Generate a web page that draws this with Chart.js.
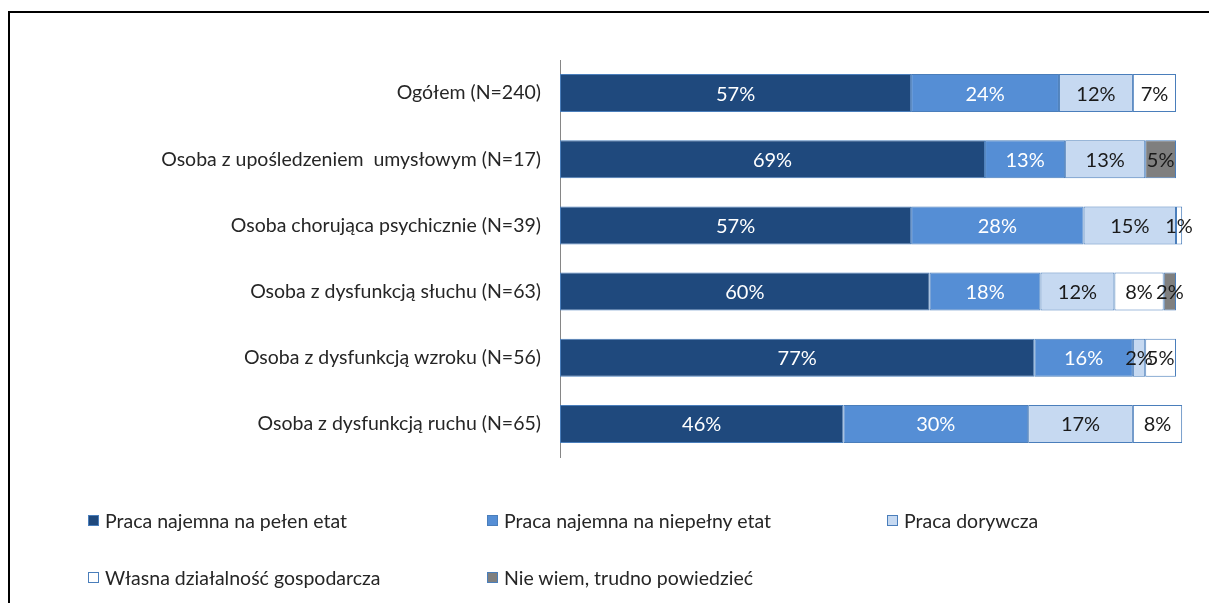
<!DOCTYPE html>
<html lang="pl">
<head>
<meta charset="utf-8">
<script src="https://cdn.jsdelivr.net/npm/chart.js@4.4.1/dist/chart.umd.min.js"></script>
<style>
  html, body { margin: 0; padding: 0; background: #fff; }
  body { width: 1209px; height: 603px; position: relative; overflow: hidden; font-family: Lato, "Open Sans", sans-serif; }
  .frame { position: absolute; left: 8px; top: 11px; width: 1400px; height: 800px;
           border-top: 2px solid #000; border-left: 2px solid #000; }
  .wrap { position: absolute; left: 0; top: 0; width: 1209px; height: 603px; }
  #legend { position: absolute; left: 0; top: 0; width: 1209px; height: 603px; pointer-events: none; }
  .lg { position: absolute; display: flex; align-items: center; font-size: 19.5px; color: #262626; white-space: nowrap; }
  .lg i { display: inline-block; width: 9px; height: 9px; margin-right: 6px; border: 1px solid #4a7ebb; }
</style>
</head>
<body>
<div class="frame"></div>
<div class="wrap"><canvas id="chart"></canvas></div>
<div id="legend"></div>
<script>
const groups = [
    'Ogółem (N=240)',
    'Osoba z upośledzeniem  umysłowym (N=17)',
    'Osoba chorująca psychicznie (N=39)',
    'Osoba z dysfunkcją słuchu (N=63)',
    'Osoba z dysfunkcją wzroku (N=56)',
    'Osoba z dysfunkcją ruchu (N=65)',
];

const seriesNames = [
    'Praca najemna na pełen etat',
    'Praca najemna na niepełny etat',
    'Praca dorywcza',
    'Własna działalność gospodarcza',
    'Nie wiem, trudno powiedzieć',
];

// share of answers per group, in %
const fullTime  = [57, 69, 57, 60, 77, 46];
const partTime  = [24, 13, 28, 18, 16, 30];
const casual    = [12, 13, 15, 12,  2, 17];
const ownFirm   = [ 7,  0,  1,  8,  5,  8];
const dontKnow  = [ 0,  5,  0,  2,  0,  0];

const fills     = ['#1f497d', '#558ed5', '#c6d9f1', '#ffffff', '#7f7f7f'];
const textCols  = ['#ffffff', '#ffffff', '#1a1a1a', '#1a1a1a', '#1a1a1a'];

const FONT = 'Lato, "Open Sans", sans-serif';

// percent labels centred on each segment
const segmentLabels = {
    id: 'segmentLabels',
    afterDatasetsDraw(chart) {
        const ctx = chart.ctx;
        ctx.save();
        ctx.font = '20px ' + FONT;
        ctx.textAlign = 'center';
        ctx.textBaseline = 'middle';
        chart.data.datasets.forEach((ds, i) => {
            const meta = chart.getDatasetMeta(i);
            meta.data.forEach((bar, j) => {
                const v = ds.data[j];
                if (!v) return;
                ctx.fillStyle = textCols[i];
                ctx.fillText(v + '%', (bar.x + bar.base) / 2, bar.y + 1);
            });
        });
        ctx.restore();
    }
};

const chart = new Chart(document.getElementById('chart'), {
    type: 'bar',
    data: {
        labels: groups,
        datasets: [fullTime, partTime, casual, ownFirm, dontKnow].map((d, i) => ({
            label: seriesNames[i],
            data: d,
            backgroundColor: fills[i],
            borderColor: '#4a7ebb',
            borderWidth: 1,
            borderSkipped: false,
            barPercentage: 0.575,
            categoryPercentage: 1,
            clip: false,
        }))
    },
    options: {
        indexAxis: 'y',
        responsive: true,
        maintainAspectRatio: false,
        animation: false,
        layout: { padding: { left: 0, top: 60, right: 33, bottom: 146 } },
        plugins: { legend: { display: false }, tooltip: { enabled: false } },
        scales: {
            x: { stacked: true, min: 0, max: 100, display: false },
            y: {
                stacked: true,
                grid: { display: true, drawOnChartArea: false, drawTicks: false },
                border: { display: true, color: '#868686', width: 1 },
                ticks: { color: '#262626', font: { family: FONT, size: 19.5 }, padding: 19 },
                afterFit: s => { s.width = 560; }
            }
        }
    },
    plugins: [segmentLabels]
});

// legend in three columns, two rows
const legendPos = [[88, 521], [487, 521], [887, 521], [88, 578], [487, 578]];
document.getElementById('legend').innerHTML = chart.data.datasets.map((ds, i) => `
  <div class="lg" style="left:${legendPos[i][0]}px;top:${legendPos[i][1] - 12}px">
    <i style="background:${ds.backgroundColor}"></i>${ds.label}
  </div>`).join('');
</script>
</body>
</html>
